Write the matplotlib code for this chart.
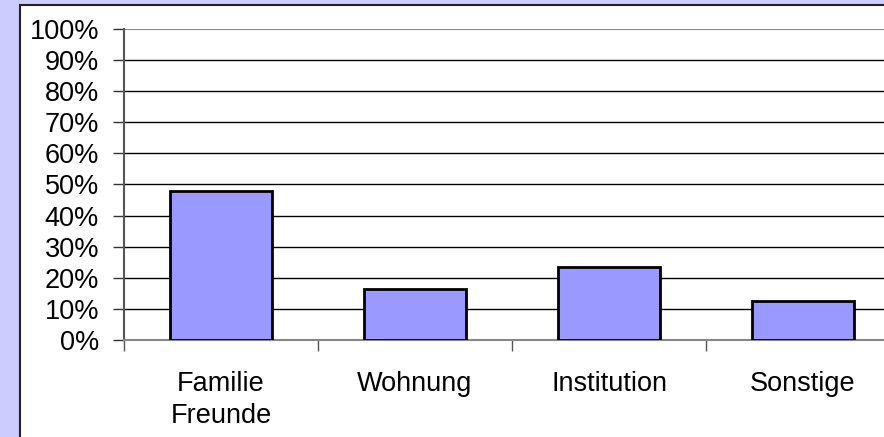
import matplotlib
matplotlib.use("Agg")
import matplotlib.pyplot as plt
from matplotlib.patches import Rectangle
from matplotlib.ticker import FixedLocator, PercentFormatter

categories = ["Familie\nFreunde", "Wohnung", "Institution", "Sonstige"]
values = [47.9, 16.4, 23.5, 12.5]
yticks = list(range(0, 101, 10))

plt.rcParams["font.family"] = ["Liberation Sans", "DejaVu Sans"]

W, H = 884, 437
fig = plt.figure(figsize=(W / 100, H / 100), dpi=100)
fig.patch.set_facecolor("#ccccff")

# white inner panel
bg = fig.add_axes([0, 0, 1, 1], zorder=0)
bg.set_axis_off()
bg.set_xlim(0, W)
bg.set_ylim(H, 0)
bg.add_patch(Rectangle((19.5, 5), W + 50, H + 50, facecolor="white",
                       edgecolor="#222222", linewidth=1.5))

ax = fig.add_axes([124 / W, (H - 340) / H, (900 - 124) / W, (340 - 29) / H], zorder=2)
ax.set_facecolor("white")
x = list(range(len(categories)))
ax.bar(x, values, width=0.53, color="#9999ff", edgecolor="black", linewidth=2, zorder=3)

ax.set_xlim(-0.5, 3.5)
ax.set_ylim(0, 100)
ax.set_yticks(yticks)
ax.yaxis.set_major_formatter(PercentFormatter(decimals=0))
for t in yticks[1:-1]:
    ax.axhline(t, color="black", linewidth=1, zorder=1)
ax.axhline(100, color="#888888", linewidth=1.5, zorder=1)

ax.set_xticks(x)
ax.set_xticklabels(categories, fontsize=19.5, linespacing=1.3)
ax.tick_params(axis="x", which="major", length=0, pad=22.5)
ax.xaxis.set_minor_locator(FixedLocator([-0.5, 0.5, 1.5, 2.5, 3.5]))
ax.tick_params(axis="x", which="minor", length=8, width=1, color="#555555", direction="out")
ax.tick_params(axis="y", length=8, width=1, color="#333333", direction="out",
               labelsize=19.5, pad=10)

for s in ["top", "right"]:
    ax.spines[s].set_visible(False)
ax.spines["left"].set_color("#555555")
ax.spines["left"].set_linewidth(1.5)
ax.spines["bottom"].set_color("#888888")
ax.spines["bottom"].set_linewidth(1.5)

fig.savefig("out.png", dpi=100, facecolor=fig.get_facecolor())
